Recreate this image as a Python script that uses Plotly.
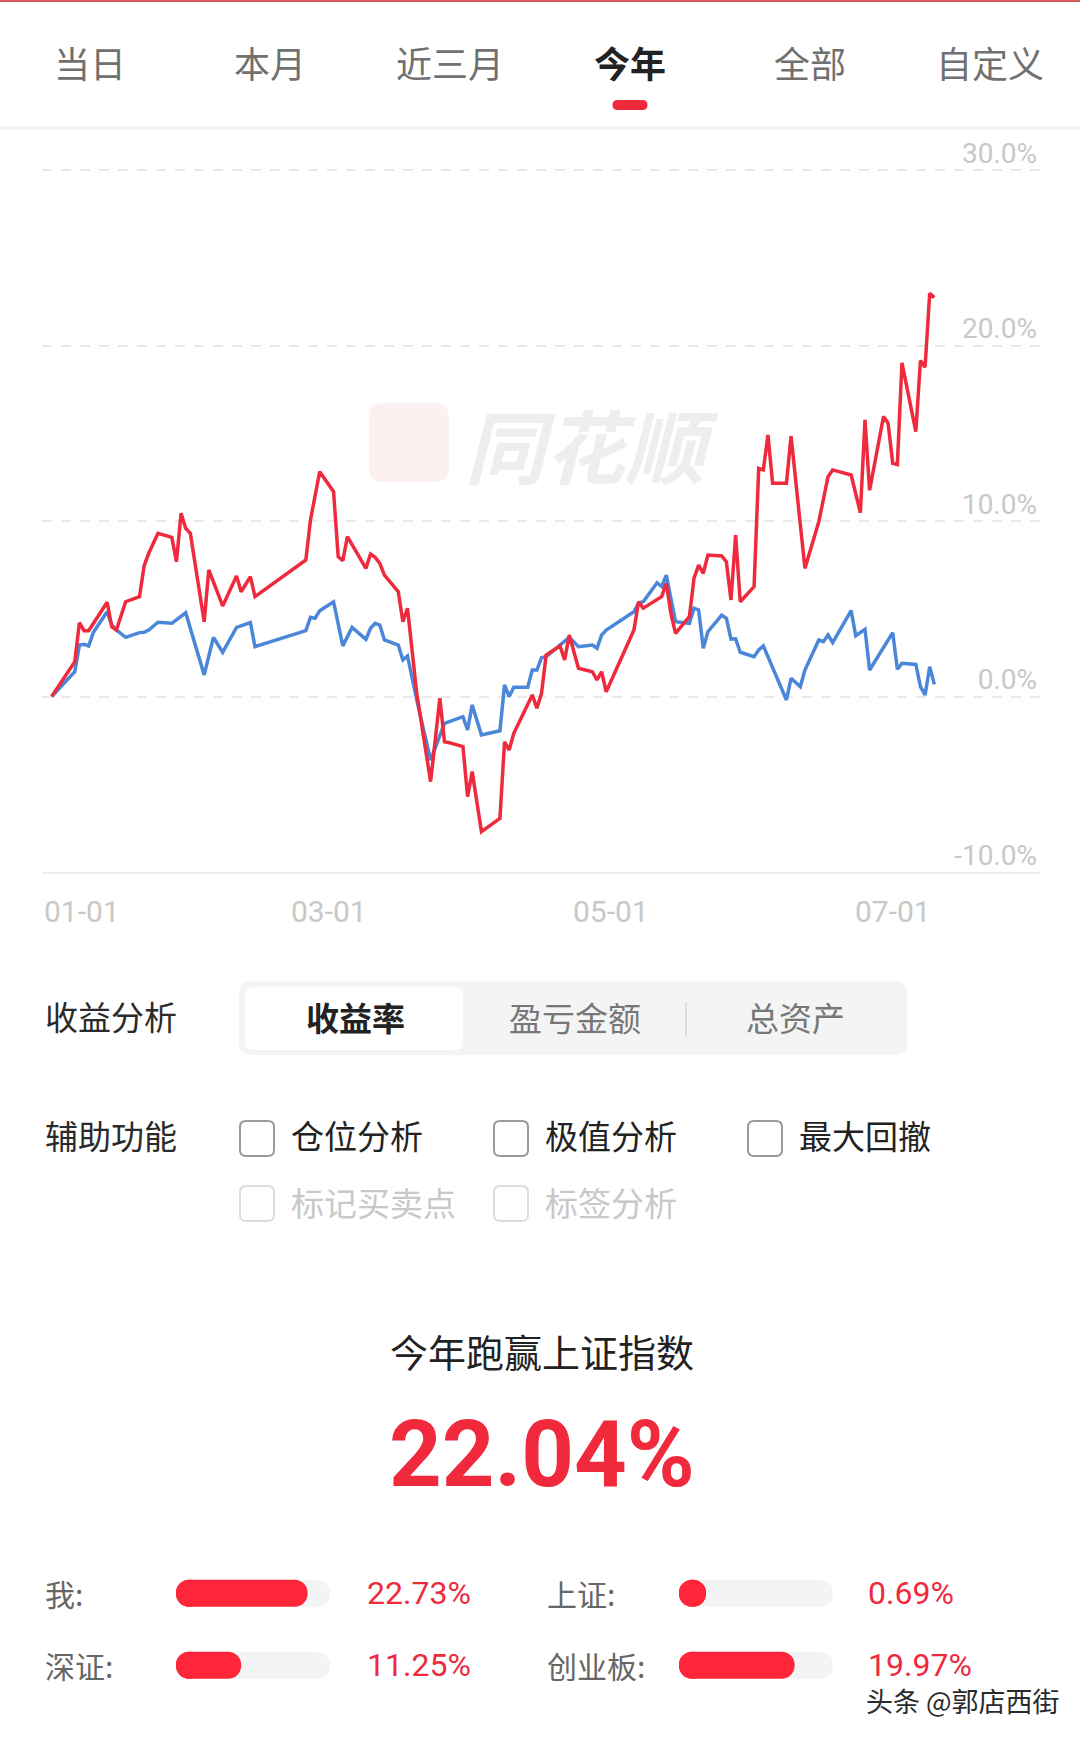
import plotly.graph_objects as go

W, H = 1080, 1737
CJK = "Noto Sans CJK SC"
NUM = "Roboto"
RED = "#ee2a3c"
BLUE = "#4a87d8"

# ---------------- data ----------------
tab_labels = ["当日", "本月", "近三月", "今年", "全部", "自定义"]
active_tab = "今年"

my_dates = [
    "2025-12-31", "2026-01-05", "2026-01-06", "2026-01-07", "2026-01-08", "2026-01-12",
    "2026-01-13", "2026-01-14", "2026-01-16", "2026-01-19", "2026-01-20", "2026-01-21",
    "2026-01-23", "2026-01-26", "2026-01-27", "2026-01-28", "2026-01-29", "2026-01-30",
    "2026-02-02", "2026-02-03", "2026-02-06", "2026-02-09", "2026-02-10", "2026-02-12",
    "2026-02-13", "2026-02-24", "2026-02-25", "2026-02-27", "2026-03-02", "2026-03-03",
    "2026-03-04", "2026-03-05", "2026-03-09", "2026-03-10", "2026-03-11", "2026-03-12",
    "2026-03-13", "2026-03-16", "2026-03-17", "2026-03-18", "2026-03-20", "2026-03-23",
    "2026-03-25", "2026-03-26", "2026-03-27", "2026-03-30", "2026-03-31", "2026-04-01",
    "2026-04-03", "2026-04-07", "2026-04-08", "2026-04-09", "2026-04-10", "2026-04-14",
    "2026-04-15", "2026-04-16", "2026-04-17", "2026-04-20", "2026-04-21", "2026-04-22",
    "2026-04-24", "2026-04-27", "2026-04-28", "2026-04-29", "2026-04-30", "2026-05-06",
    "2026-05-07", "2026-05-08", "2026-05-12", "2026-05-13", "2026-05-14", "2026-05-15",
    "2026-05-18", "2026-05-19", "2026-05-20", "2026-05-21", "2026-05-22", "2026-05-25",
    "2026-05-26", "2026-05-27", "2026-05-28", "2026-05-29", "2026-06-01", "2026-06-02",
    "2026-06-03", "2026-06-04", "2026-06-05", "2026-06-08", "2026-06-09", "2026-06-12",
    "2026-06-15", "2026-06-17", "2026-06-18", "2026-06-22", "2026-06-24", "2026-06-25",
    "2026-06-26", "2026-06-29", "2026-06-30", "2026-07-01", "2026-07-02", "2026-07-03",
    "2026-07-06", "2026-07-07", "2026-07-08", "2026-07-09", "2026-07-10",
]
my_returns = [
    0.00, 1.98, 4.21, 3.75, 3.75, 5.37,
    3.98, 3.79, 5.40, 5.69, 7.44, 8.16,
    9.30, 9.07, 7.68, 10.44, 9.58, 9.30,
    4.26, 7.21, 5.16, 6.87, 5.97, 6.83,
    5.69, 7.78, 10.06, 12.81, 11.67, 7.97,
    7.74, 9.11, 7.30, 8.12, 7.93, 7.59,
    6.92, 5.97, 4.26, 5.03, 0.18, -4.85,
    -0.10, -2.58, -2.63, -2.86, -5.71, -4.28,
    -7.70, -6.94, -2.58, -3.05, -2.10, 0.09,
    -0.67, 0.18, 2.36, 2.88, 2.08, 3.50,
    1.61, 1.41, 0.94, 1.41, 0.27, 3.79,
    5.40, 5.03, 5.69, 6.45, 4.74, 3.60,
    4.55, 6.74, 7.49, 7.02, 8.06, 8.01,
    7.68, 5.50, 9.20, 5.40, 6.26, 13.00,
    12.91, 14.90, 12.15, 12.15, 14.84, 7.30,
    9.96, 12.52, 12.91, 12.62, 10.47, 15.76,
    11.75, 15.95, 15.57, 13.28, 13.22, 19.01,
    15.09, 19.14, 18.76, 22.97, 22.73,
]

sse_dates = [
    "2025-12-31", "2026-01-05", "2026-01-06", "2026-01-07", "2026-01-08", "2026-01-09",
    "2026-01-12", "2026-01-13", "2026-01-14", "2026-01-16", "2026-01-19", "2026-01-20",
    "2026-01-21", "2026-01-23", "2026-01-26", "2026-01-27", "2026-01-29", "2026-02-02",
    "2026-02-04", "2026-02-06", "2026-02-09", "2026-02-12", "2026-02-13", "2026-02-24",
    "2026-02-25", "2026-02-26", "2026-02-27", "2026-03-02", "2026-03-04", "2026-03-06",
    "2026-03-09", "2026-03-10", "2026-03-11", "2026-03-12", "2026-03-13", "2026-03-16",
    "2026-03-17", "2026-03-18", "2026-03-20", "2026-03-23", "2026-03-26", "2026-03-30",
    "2026-03-31", "2026-04-01", "2026-04-03", "2026-04-07", "2026-04-08", "2026-04-09",
    "2026-04-10", "2026-04-13", "2026-04-14", "2026-04-15", "2026-04-16", "2026-04-17",
    "2026-04-20", "2026-04-22", "2026-04-24", "2026-04-27", "2026-04-28", "2026-04-29",
    "2026-04-30", "2026-05-06", "2026-05-07", "2026-05-08", "2026-05-11", "2026-05-12",
    "2026-05-13", "2026-05-14", "2026-05-15", "2026-05-18", "2026-05-19", "2026-05-20",
    "2026-05-21", "2026-05-22", "2026-05-25", "2026-05-26", "2026-05-27", "2026-05-28",
    "2026-05-29", "2026-06-01", "2026-06-02", "2026-06-03", "2026-06-05", "2026-06-08",
    "2026-06-09", "2026-06-11", "2026-06-12", "2026-06-15", "2026-06-16", "2026-06-17",
    "2026-06-18", "2026-06-22", "2026-06-23", "2026-06-25", "2026-06-26", "2026-07-01",
    "2026-07-02", "2026-07-03", "2026-07-06", "2026-07-07", "2026-07-08", "2026-07-09",
    "2026-07-10",
]
sse_returns = [
    0.00, 1.41, 2.93, 2.97, 2.88, 3.64,
    4.83, 4.07, 3.79, 3.37, 3.64, 3.66,
    3.79, 4.23, 4.17, 4.36, 4.77, 1.23,
    3.37, 2.52, 3.94, 4.21, 2.84, 3.75,
    4.51, 4.46, 4.89, 5.40, 2.88, 3.94,
    3.26, 3.89, 4.17, 4.07, 3.22, 2.93,
    2.08, 2.31, -0.20, -3.62, -1.53, -1.15,
    -1.91, -0.48, -2.19, -1.95, 0.66, 0.00,
    0.52, 0.52, 1.51, 1.51, 2.21, 2.27,
    2.93, 3.37, 2.84, 2.93, 2.75, 3.50,
    3.79, 4.83, 5.31, 5.40, 6.48, 6.26,
    6.92, 5.50, 4.26, 4.17, 5.03, 4.93,
    2.75, 3.69, 4.64, 4.46, 3.27, 3.29,
    2.52, 2.27, 2.65, 2.88, 1.61, -0.20,
    1.04, 0.56, 1.51, 3.22, 3.12, 3.50,
    3.07, 4.89, 3.46, 3.83, 1.51, 3.64,
    1.55, 1.89, 1.83, 0.56, 0.09, 1.70,
    0.69,
]

x_tick_dates = ["2026-01-01", "2026-03-01", "2026-05-01", "2026-07-01"]
x_tick_labels = ["01-01", "03-01", "05-01", "07-01"]
y_tick_values = [-10, 0, 10, 20, 30]
y_tick_labels = ["-10.0%", "0.0%", "10.0%", "20.0%", "30.0%"]

analysis_label = "收益分析"
analysis_modes = ["收益率", "盈亏金额", "总资产"]
aux_label = "辅助功能"
aux_options_row1 = ["仓位分析", "极值分析", "最大回撤"]
aux_options_row2 = ["标记买卖点", "标签分析"]

headline = "今年跑赢上证指数"
excess_return = 22.04

cmp_left_names = ["我", "深证"]
cmp_left_values = [22.73, 11.25]
cmp_right_names = ["上证", "创业板"]
cmp_right_values = [0.69, 19.97]

credit = "头条 @郭店西街"
brand = "同花顺"


# ---------------- helpers ----------------
def fx(x):
    return x / W


def fy(y):
    return 1 - y / H


def rrect(x0, y0, x1, y1, r):
    rx, ry = r / W, r / H
    X0, X1 = fx(x0), fx(x1)
    B, T = fy(y1), fy(y0)
    return (f"M{X0+rx},{B} L{X1-rx},{B} Q{X1},{B} {X1},{B+ry} "
            f"L{X1},{T-ry} Q{X1},{T} {X1-rx},{T} L{X0+rx},{T} "
            f"Q{X0},{T} {X0},{T-ry} L{X0},{B+ry} Q{X0},{B} {X0+rx},{B} Z")


shapes = []
annotations = []


def text(x, y, s, size, color, family=CJK, weight=400, xanchor="center", **kw):
    d = dict(x=fx(x), y=fy(y), xref="paper", yref="paper", text=s, showarrow=False,
             xanchor=xanchor, yanchor="middle",
             font=dict(family=family, size=size, color=color, weight=weight))
    d.update(kw)
    annotations.append(d)


fig = go.Figure()

# ---------------- main chart ----------------
fig.add_trace(go.Scatter(x=sse_dates, y=sse_returns, mode="lines",
                         line=dict(color=BLUE, width=3.5), hoverinfo="skip",
                         xaxis="x", yaxis="y", showlegend=False))
fig.add_trace(go.Scatter(x=my_dates, y=my_returns, mode="lines",
                         line=dict(color=RED, width=3.5), hoverinfo="skip",
                         xaxis="x", yaxis="y", showlegend=False))

x_range = ["2025-12-28 21:43", "2026-08-01 20:53"]

for i, (d, lab) in enumerate(zip(x_tick_dates, x_tick_labels)):
    annotations.append(dict(
        x=x_range[0] if i == 0 else d, y=fy(911), xref="x", yref="paper",
        text=lab, showarrow=False, xanchor="left" if i == 0 else "center",
        yanchor="middle", font=dict(family=NUM, size=30, color="#c8c8c8")))

# ---------------- progress bars ----------------
TRACK_MAX = 26.6
track_px, bar_px = 154, 27
cap = TRACK_MAX * bar_px / track_px
bar_w = bar_px / 72

for names, vals, xa, ya in [(cmp_left_names, cmp_left_values, "x2", "y2"),
                            (cmp_right_names, cmp_right_values, "x3", "y3")]:
    n = len(names)
    common = dict(y=names, orientation="h", width=bar_w, xaxis=xa, yaxis=ya,
                  hoverinfo="skip", showlegend=False)
    fig.add_trace(go.Bar(x=[TRACK_MAX] * n, base=0,
                         marker=dict(color="#f3f4f5", cornerradius="50%", line=dict(width=0)), **common))
    fig.add_trace(go.Bar(x=[-cap] * n, base=cap,
                         marker=dict(color="#f3f4f5", cornerradius="50%", line=dict(width=0)), **common))
    fig.add_trace(go.Bar(x=[max(v, cap) for v in vals], base=0,
                         marker=dict(color="#ff2639", cornerradius="50%", line=dict(width=0)), **common))
    fig.add_trace(go.Bar(x=[-cap] * n, base=cap,
                         marker=dict(color="#ff2639", cornerradius="50%", line=dict(width=0)), **common))

for names, vals, xl, xv, ya in [(cmp_left_names, cmp_left_values, 43, 365, "y2"),
                                (cmp_right_names, cmp_right_values, 545, 866, "y3")]:
    for nm, v in zip(names, vals):
        annotations.append(dict(x=fx(xl), y=nm, xref="paper", yref=ya, text=nm + ":",
                                showarrow=False, xanchor="left", yanchor="middle",
                                font=dict(family=CJK, size=30, color="#666666")))
        annotations.append(dict(x=fx(xv), y=nm, xref="paper", yref=ya, text=f"{v:.2f}%",
                                showarrow=False, xanchor="left", yanchor="middle",
                                font=dict(family=NUM, size=32, color="#ee2a3c")))

# ---------------- page decorations ----------------
shapes.append(dict(type="line", xref="paper", yref="paper", x0=0, x1=1, y0=fy(1), y1=fy(1),
                   line=dict(color="#d65a5a", width=2)))
shapes.append(dict(type="line", xref="paper", yref="paper", x0=0, x1=1, y0=fy(128), y1=fy(128),
                   line=dict(color="#f0f0f0", width=3)))

tab_centers = [90 + 180 * i for i in range(len(tab_labels))]
for cx, lab in zip(tab_centers, tab_labels):
    act = lab == active_tab
    text(cx, 62, lab, 36, "#222222" if act else "#707070", weight=700 if act else 400)
    if act:
        shapes.append(dict(type="path", xref="paper", yref="paper",
                           path=rrect(cx - 17.5, 100, cx + 17.5, 110, 5),
                           fillcolor=RED, line=dict(width=0)))

# watermark
shapes.append(dict(type="path", xref="paper", yref="paper", layer="below",
                   path=rrect(369, 403, 449, 482, 14), fillcolor="#fdf0f0", line=dict(width=0)))
text(592, 443, f"<i>{brand}</i>", 80, "#eeeeee", weight=700)

# analysis section
text(43, 1016, analysis_label, 33, "#2a2a2a", xanchor="left")
shapes.append(dict(type="path", xref="paper", yref="paper",
                   path=rrect(239, 981, 907, 1055, 12), fillcolor="#f4f4f4", line=dict(width=0)))
shapes.append(dict(type="path", xref="paper", yref="paper",
                   path=rrect(245, 987, 463, 1050, 9), fillcolor="#ffffff", line=dict(width=0)))
shapes.append(dict(type="line", xref="paper", yref="paper", x0=fx(686), x1=fx(686),
                   y0=fy(1002), y1=fy(1036), line=dict(color="#d6d6d6", width=1.5)))
for cx, lab in zip([355, 575, 795], analysis_modes):
    first = lab == analysis_modes[0]
    text(cx, 1017, lab, 33, "#222222" if first else "#777777", weight=700 if first else 400)

# aux section
text(43, 1135, aux_label, 33, "#2a2a2a", xanchor="left")
for bx, lab in zip([240, 494, 748], aux_options_row1):
    shapes.append(dict(type="path", xref="paper", yref="paper",
                       path=rrect(bx, 1121, bx + 34, 1156, 6), fillcolor="#ffffff",
                       line=dict(color="#9a9a9a", width=2)))
    text(bx + 49, 1135, lab, 33, "#222222", xanchor="left")
for bx, lab in zip([240, 494], aux_options_row2):
    shapes.append(dict(type="path", xref="paper", yref="paper",
                       path=rrect(bx, 1186, bx + 34, 1221, 6), fillcolor="#ffffff",
                       line=dict(color="#dddddd", width=2)))
    text(bx + 49, 1202, lab, 33, "#c8c8c8", xanchor="left")

# headline
text(542, 1350, headline, 38, "#222222")
text(542, 1454, f"{excess_return:.2f}%", 92, "#f02a3c", family=NUM, weight=700)

# credit
annotations.append(dict(x=fx(1062), y=fy(1700), xref="paper", yref="paper", text=credit,
                        showarrow=False, xanchor="right", yanchor="middle",
                        font=dict(family=CJK, size=27, color="#2a2a2a",
                                  shadow="0px 0px 3px #ffffff")))

PX_PER_PCT = 17.55
y_top_px, y_bot_px = 118, 872

fig.update_layout(
    width=W, height=H, margin=dict(l=0, r=0, t=0, b=0),
    paper_bgcolor="#ffffff", plot_bgcolor="rgba(0,0,0,0)",
    barmode="overlay", showlegend=False,
    shapes=shapes, annotations=annotations,
    xaxis=dict(domain=[fx(42), fx(1040)], type="date", range=x_range, anchor="y",
               showgrid=False, zeroline=False, showticklabels=False, ticks="",
               showline=True, linecolor="#eeeeee", linewidth=2, fixedrange=True),
    yaxis=dict(domain=[fy(y_bot_px), fy(y_top_px)],
               range=[-10, -10 + (y_bot_px - y_top_px) / PX_PER_PCT], anchor="x", side="right",
               tickmode="array", tickvals=y_tick_values, ticktext=y_tick_labels,
               ticklabelposition="inside", ticklabelshift=-17, ticks="",
               tickfont=dict(family=NUM, size=28, color="#c8c8c8"),
               showgrid=True, gridcolor="#e9e9e9", gridwidth=2, griddash="10px,9px",
               zeroline=False, showline=False, fixedrange=True),
    xaxis2=dict(domain=[fx(176), fx(330)], range=[0, TRACK_MAX], anchor="y2", visible=False,
                fixedrange=True),
    yaxis2=dict(domain=[fy(1701.2), fy(1557.3)], type="category", range=[1.5, -0.5],
                anchor="x2", visible=False, fixedrange=True),
    xaxis3=dict(domain=[fx(679), fx(833)], range=[0, TRACK_MAX], anchor="y3", visible=False,
                fixedrange=True),
    yaxis3=dict(domain=[fy(1701.2), fy(1557.3)], type="category", range=[1.5, -0.5],
                anchor="x3", visible=False, fixedrange=True),
)

fig.write_html("out.html", config={"displayModeBar": False},
               post_script="document.body.style.margin='0';")
